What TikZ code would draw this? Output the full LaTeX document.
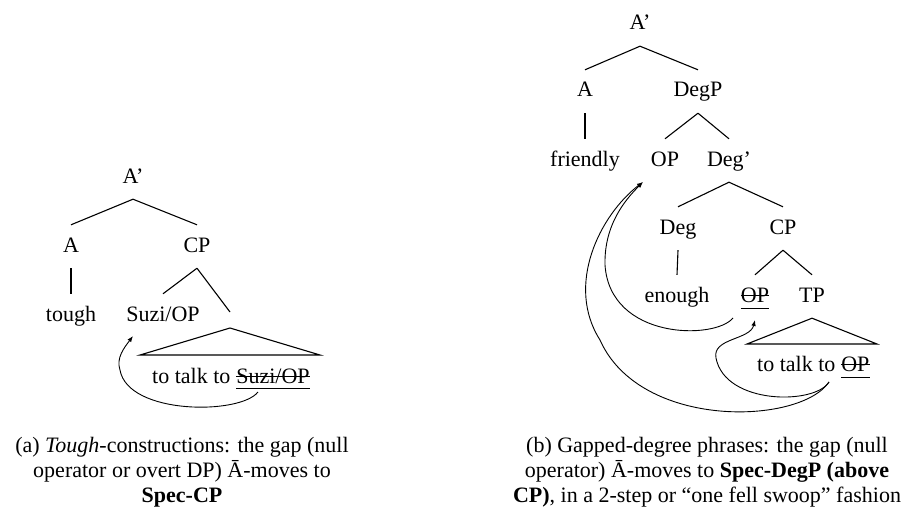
\documentclass[tikz,border=0pt]{standalone}
\usepackage{fontspec}
\setmainfont{Liberation Serif}
\usetikzlibrary{arrows.meta}
\begin{document}
\begin{tikzpicture}[x=1pt,y=-1pt,
  every node/.style={inner sep=0pt, font=\fontsize{22}{25}\selectfont},
  lab/.style={anchor=base, text height=27pt, text depth=16pt},
  txt/.style={anchor=base west},
  br/.style={line width=1.1pt},
  mark line/.style={line width=1pt},
  mv/.style={line width=0.9pt, -{Latex[length=6pt,width=4.5pt]}},
  capt/.style={anchor=base, align=center}]
\useasboundingbox (0,0) rectangle (912,508);

% ---------------- (a) tough-constructions ----------------
\node[lab] (la)    at (133,183) {A'};
\node[lab] (lA)    at (71,252)  {A};
\node[lab] (lCP)   at (197,252) {CP};
\node[lab] (ltough) at (71,321) {tough};
\node[lab] (lspec) at (163,321) {Suzi/OP};
\coordinate (lend) at (230,312);
\coordinate (lapex) at (230,328);
\coordinate (lbl) at (140,355);
\coordinate (lbr) at (320,355);
\node[txt] (ltxt) at (152,383) {to talk to};
\node[txt] (lgap) at ([xshift=5.5pt]ltxt.base east) {Suzi/OP};

\draw[br] (la.south) -- (lA.north);
\draw[br] (la.south) -- (lCP.north);
\draw[br] (lA.south) -- (ltough.north);
\draw[br] (lCP.south) -- (lspec.north);
\draw[br] (lCP.south) -- (lend);
\draw[br] (lapex) -- (lbl) -- (lbr) -- cycle;
\draw[mark line] ([yshift=7pt]lgap.base west) -- ([yshift=7pt]lgap.base east);
\draw[mark line] ([yshift=-5.5pt]lgap.base west) -- ([yshift=-5.5pt]lgap.base east);

\coordinate (la0) at (258,392);
\coordinate (la1) at (120,370);
\coordinate (la2) at (133,336);
\draw[mv] (la0) .. controls (240,415) and (128,415) .. (la1)
                .. controls (116,358) and (124,348) .. (la2);

\node[capt] (capa) at (182,502) {(a) \textit{Tough}-constructions: the gap (null\\operator or overt DP) Ā-moves to\\\textbf{Spec-CP}};

% ---------------- (b) gapped-degree phrases ----------------
\node[lab] (ra)     at (640,30)  {A'};
\node[lab] (rA)     at (585,97)  {A};
\node[lab] (rDegP)  at (698,97)  {DegP};
\node[lab] (rfr)    at (585,166) {friendly};
\node[lab] (rOP)    at (665,166) {OP};
\node[lab] (rDegb)  at (729,166) {Deg'};
\node[lab] (rDeg)   at (678,234) {Deg};
\node[lab] (rCP)    at (783,234) {CP};
\node[lab] (renough) at (677,302) {enough};
\node[lab] (rop2)   at (755,302) {OP};
\node[lab] (rTP)    at (812,302) {TP};
\coordinate (rbl) at (747,344);
\coordinate (rbr) at (877,344);
\node[txt] (rtxt) at (757,371) {to talk to};
\node[txt] (rgap) at ([xshift=5.5pt]rtxt.base east) {OP};

\draw[br] (ra.south) -- (rA.north);
\draw[br] (ra.south) -- (rDegP.north);
\draw[br] (rA.south) -- (rfr.north);
\draw[br] (rDegP.south) -- (rOP.north);
\draw[br] (rDegP.south) -- (rDegb.north);
\draw[br] (rDegb.south) -- (rDeg.north);
\draw[br] (rDegb.south) -- (rCP.north);
\draw[br] (rDeg.south) -- (renough.north);
\draw[br] (rCP.south) -- (rop2.north);
\draw[br] (rCP.south) -- (rTP.north);
\draw[br] (rTP.south) -- (rbl) -- (rbr) -- cycle;

\draw[mark line] ([yshift=7pt]rop2.base west) -- ([yshift=7pt]rop2.base east);
\draw[mark line] ([yshift=-6pt]rop2.base west) -- ([yshift=-6pt]rop2.base east);
\draw[mark line] ([yshift=7pt]rgap.base west) -- ([yshift=7pt]rgap.base east);
\draw[mark line] ([yshift=-6pt]rgap.base west) -- ([yshift=-6pt]rgap.base east);

\coordinate (ra0) at (829,382);
\coordinate (ra1) at (716,358);
\coordinate (ra2) at (755,320);
\coordinate (rb0) at (733,318);
\coordinate (rb1) at (605,265);
\coordinate (rc1) at (600,340);
\coordinate (rtip) at (643,182);
\draw[mv] (ra0) .. controls (815,405) and (725,405) .. (ra1)
                .. controls (712,338) and (750,340) .. (ra2);
\draw[mv] (rb0) .. controls (715,340) and (610,340) .. (rb1)
                .. controls (604,225) and (625,200) .. (rtip);
\draw[mv] (ra0) .. controls (800,425) and (640,430) .. (rc1)
                .. controls (565,285) and (600,215) .. (rtip);

\node[capt] (capb) at (707,502) {(b) Gapped-degree phrases: the gap (null\\operator) Ā-moves to \textbf{Spec-DegP (above}\\\textbf{CP)}, in a 2-step or “one fell swoop” fashion};
\end{tikzpicture}
\end{document}
